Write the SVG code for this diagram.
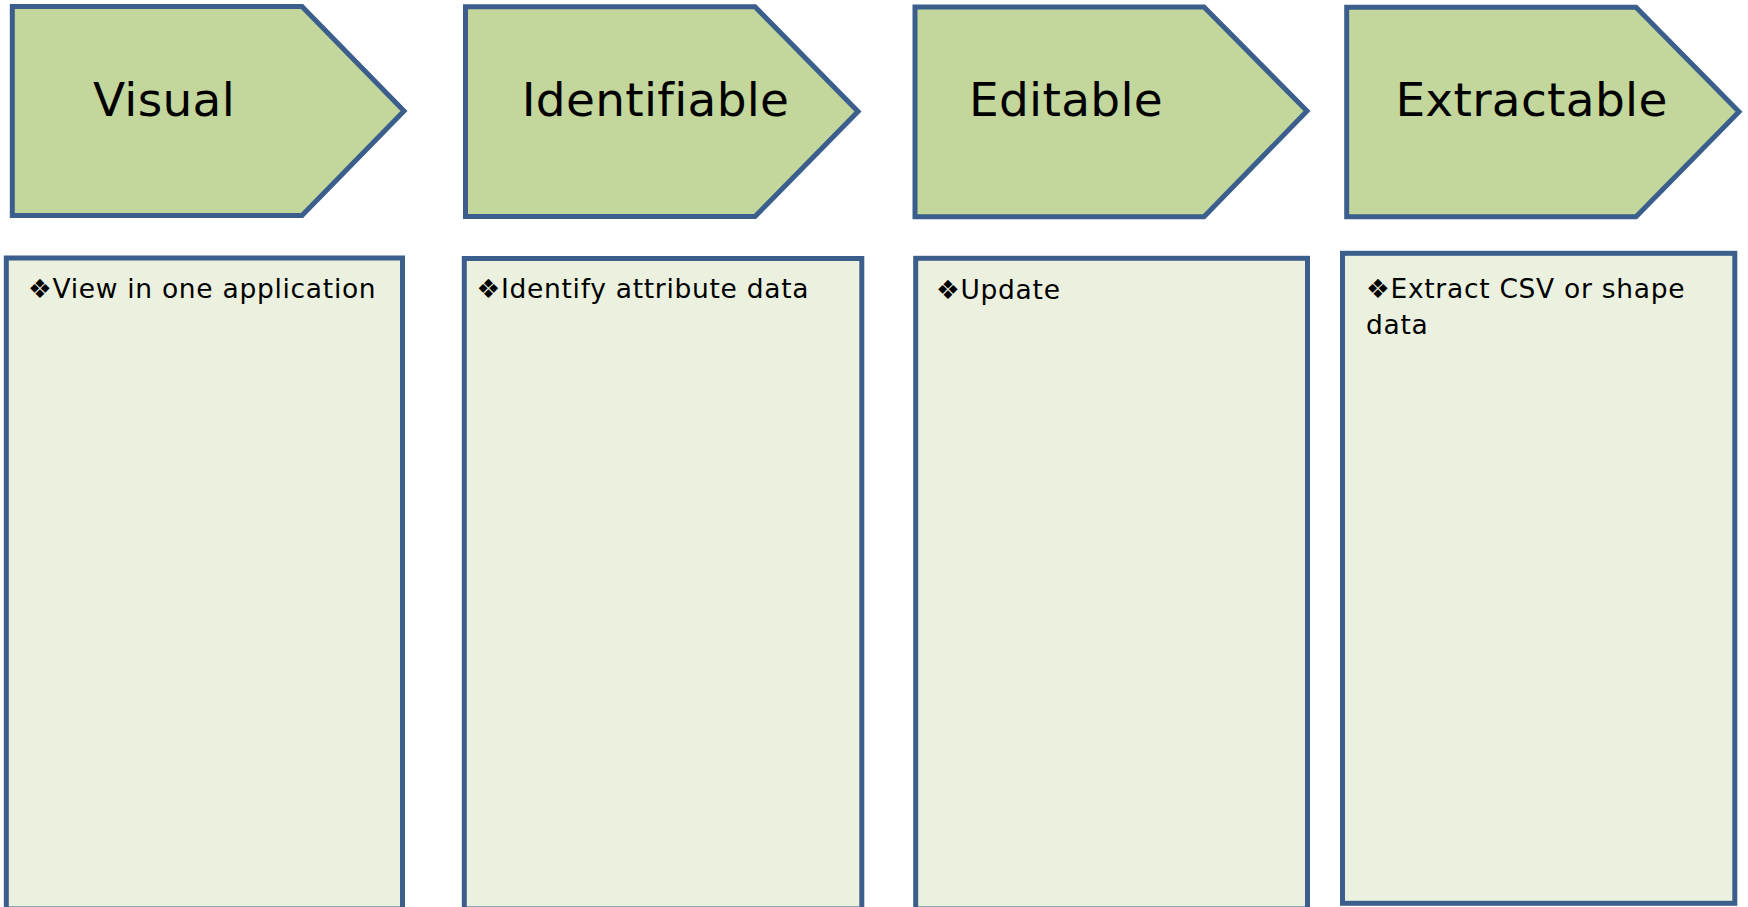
<svg xmlns="http://www.w3.org/2000/svg" width="1748" height="907" viewBox="0 0 1748 907">
<style>
.chev{fill:#C3D69B;stroke:#3B5E8C;stroke-width:5;stroke-linejoin:miter}
.box{fill:#EBF1DE;stroke:#3B5E8C;stroke-width:5}
.head{font-family:"DejaVu Sans",Verdana,sans-serif;font-size:47px;letter-spacing:0.3px;fill:#000;text-anchor:middle}
.body{font-family:"DejaVu Sans",Verdana,sans-serif;font-size:26.5px;letter-spacing:0.7px;fill:#000}
</style>
<rect width="1748" height="907" fill="#FFFFFF"/>
<g id="connectors"></g>
<g id="node-visual">
<polygon class="chev" points="12.3,6.5 302,6.5 404,111 302,215.5 12.3,215.5"/>
<text class="head" x="164" y="115.5">Visual</text>
</g>
<g id="node-identifiable">
<polygon class="chev" points="465.5,6.7 755,6.7 858,111.5 755,216.5 465.5,216.5"/>
<text class="head" x="655.5" y="115.5">Identifiable</text>
</g>
<g id="node-editable">
<polygon class="chev" points="915,7 1204,7 1307,111 1204,216.7 915,216.7"/>
<text class="head" x="1066" y="115.5">Editable</text>
</g>
<g id="node-extractable">
<polygon class="chev" points="1346.7,7.3 1636,7.3 1739,111.7 1636,216.7 1346.7,216.7"/>
<text class="head" x="1531.5" y="115.5">Extractable</text>
</g>
<g id="box-visual">
<rect class="box" x="6.3" y="258" width="396.2" height="651"/>
<text class="body" x="28" y="298">❖View in one application</text>
</g>
<g id="box-identifiable">
<rect class="box" x="464.3" y="258.5" width="397.5" height="650.5"/>
<text class="body" x="476.5" y="298">❖Identify attribute data</text>
</g>
<g id="box-editable">
<rect class="box" x="915.7" y="258.3" width="391.8" height="650.7"/>
<text class="body" x="936" y="298.5">❖Update</text>
</g>
<g id="box-extractable">
<rect class="box" x="1342.5" y="253.3" width="392.3" height="650"/>
<text class="body" x="1366" y="298">❖Extract CSV or shape</text>
<text class="body" x="1366" y="333.5">data</text>
</g>
</svg>
